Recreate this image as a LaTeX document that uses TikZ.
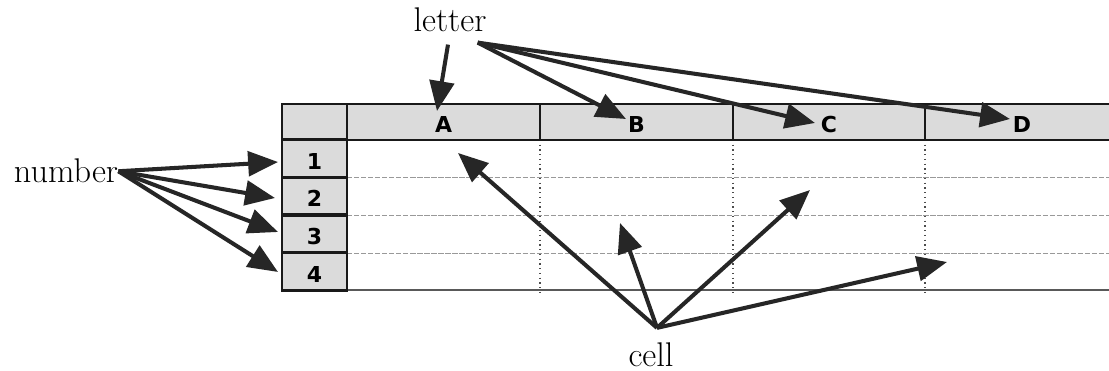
\documentclass[tikz,border=0pt]{standalone}
\usepackage{fontspec}
\newfontfamily\gridfont{DejaVu Sans}
\usetikzlibrary{arrows.meta}

\tikzset{
    headcell/.style={draw=black!90, line width=1.5pt, fill=black!14, inner sep=0pt,
        text height=12pt, text depth=0pt,
        font=\gridfont\bfseries\fontsize{12.5}{14}\selectfont},
    pointer/.style={-{Triangle[length=17pt,width=14pt]}, line width=2.3pt, draw=black!85},
    wordlabel/.style={inner sep=0pt, anchor=base, font=\fontsize{19.5}{22}\selectfont},
}

\begin{document}
\begin{tikzpicture}[x=0.02cm, y=-0.02cm]
        \clip (0,0) rectangle (1109,371);
        \fill[white] (0,0) rectangle (1109,371);

        % body
        \foreach \y in {177,215,253}
            \draw[black!40, dash pattern=on 3pt off 1pt, line width=0.5pt] (347,\y) -- (1109,\y);
        \foreach \x in {540,733,925}
            \draw[black!70, dotted, line width=0.7pt] (\x,140) -- (\x,292);
        \draw[black!65, line width=1.1pt] (282,290) -- (1109,290);

        % header row
        \node[headcell, minimum width=1.3cm, minimum height=0.72cm] (corner) at (314.5,122) {};
        \node[headcell, minimum width=3.86cm, minimum height=0.72cm] (colA) at (443.5,122) {A};
        \node[headcell, minimum width=3.86cm, minimum height=0.72cm] (colB) at (636.5,122) {B};
        \node[headcell, minimum width=3.84cm, minimum height=0.72cm] (colC) at (829,122) {C};
        \node[headcell, minimum width=3.88cm, minimum height=0.72cm] (colD) at (1022,122) {D};

        % row numbers
        \foreach \n/\y in {1/158.5,2/196,3/234,4/271.5}
            \node[headcell, minimum width=1.3cm, minimum height=0.75cm] (row\n) at (314.5,\y) {\n};

        % labels
        \node[wordlabel] (letter) at (450,32) {letter};
        \node[wordlabel] (number) at (66,183) {number};
        \node[wordlabel] (cell) at (651,366) {cell};

        % arrow tips
        \coordinate (tipA) at (437,111);
        \coordinate (tipB) at (626,119);
        \coordinate (tipC) at (815,123);
        \coordinate (tipD) at (1010,119);
        \coordinate (tip1) at (278,162);
        \coordinate (tip2) at (275,198);
        \coordinate (tip3) at (278,232);
        \coordinate (tip4) at (278,272);
        \coordinate (cellA) at (458,153);
        \coordinate (cellB) at (620,223);
        \coordinate (cellC) at (810,190);
        \coordinate (cellD) at (947,262);

        % letter
        \draw[pointer] ([shift={(-2,12)}]letter.south) -- (tipA);
        \foreach \t in {tipB,tipC,tipD}
            \draw[pointer] ([shift={(-9,10)}]letter.south east) -- (\t);

        % number
        \foreach \t in {tip1,tip2,tip3,tip4}
            \draw[pointer] (number.east) -- (\t);

        % cell
        \foreach \t in {cellA,cellB,cellC,cellD}
            \draw[pointer] ([shift={(6,-14)}]cell.north) -- (\t);
\end{tikzpicture}
\end{document}
